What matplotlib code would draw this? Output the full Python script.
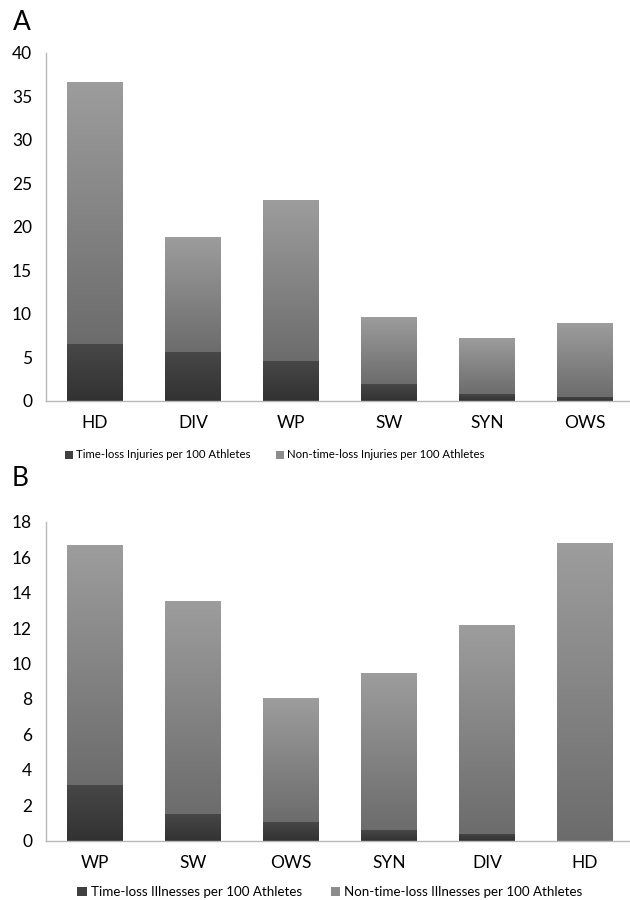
import numpy as np
import matplotlib
matplotlib.use("Agg")
import matplotlib.pyplot as plt
from matplotlib.colors import LinearSegmentedColormap
from matplotlib.patches import Patch

plt.rcParams['font.family'] = ['Lato', 'DejaVu Sans']

# Panel A data
cats_a = ["HD", "DIV", "WP", "SW", "SYN", "OWS"]
tl_inj = [6.55, 5.63, 4.56, 1.95, 0.80, 0.46]
total_inj = [36.7, 18.9, 23.07, 9.66, 7.28, 9.0]
ntl_inj = [t - d for t, d in zip(total_inj, tl_inj)]
yticks_a = [0, 5, 10, 15, 20, 25, 30, 35, 40]

# Panel B data
cats_b = ["WP", "SW", "OWS", "SYN", "DIV", "HD"]
tl_ill = [3.14, 1.50, 1.07, 0.59, 0.40, 0.0]
total_ill = [16.7, 13.54, 8.04, 9.48, 12.17, 16.78]
ntl_ill = [t - d for t, d in zip(total_ill, tl_ill)]
yticks_b = [0, 2, 4, 6, 8, 10, 12, 14, 16, 18]

dark_cmap = LinearSegmentedColormap.from_list("dk", ["#323232", "#474747"])
light_cmap = LinearSegmentedColormap.from_list("lt", ["#6c6c6c", "#9d9d9d"])
grad = np.linspace(0, 1, 256).reshape(-1, 1)[::-1]

W, H = 630, 900
fig = plt.figure(figsize=(W / 100, H / 100), dpi=100)


def grad_fill(ax, bars, cmap):
    for r in bars:
        x, y = r.get_x(), r.get_y()
        w, h = r.get_width(), r.get_height()
        if h <= 0:
            continue
        im = ax.imshow(grad, extent=[x, x + w, y, y + h], aspect='auto',
                       cmap=cmap, vmin=0, vmax=1, zorder=2, interpolation='bilinear')
        im.set_clip_path(r)
        r.set_facecolor('none')
        r.set_edgecolor('none')


def panel(rect, cats, tl, ntl, yticks, ymax, labels, leg_center, leg_fs):
    ax = fig.add_axes(rect)
    xs = np.arange(len(cats))
    b1 = ax.bar(xs, tl, width=0.57, color='#404040', zorder=2)
    b2 = ax.bar(xs, ntl, bottom=tl, width=0.57, color='#8c8c8c', zorder=2)
    grad_fill(ax, b1, dark_cmap)
    grad_fill(ax, b2, light_cmap)
    ax.set_xlim(-0.5, len(cats) - 0.5)
    ax.set_ylim(0, ymax)
    ax.set_yticks(yticks)
    ax.set_xticks(xs)
    ax.set_xticklabels(cats)
    ax.tick_params(axis='both', length=0, labelsize=12.5, colors='#000000')
    ax.tick_params(axis='y', pad=10)
    ax.tick_params(axis='x', pad=10)
    for s in ['top', 'right']:
        ax.spines[s].set_visible(False)
    for s in ['left', 'bottom']:
        ax.spines[s].set_color('#b8b8b8')
        ax.spines[s].set_linewidth(1.0)
    handles = [Patch(facecolor='#404040', edgecolor='none'),
               Patch(facecolor='#8c8c8c', edgecolor='none')]
    fig.legend(handles, labels, loc='center', ncol=2, frameon=False,
               bbox_to_anchor=leg_center, fontsize=leg_fs,
               handlelength=0.7, handleheight=0.7, handletextpad=0.3,
               columnspacing=2.2)
    return ax


left = 46 / W
width = 588 / W
panel([left, 1 - 401 / H, width, (401 - 53) / H], cats_a, tl_inj, ntl_inj,
      yticks_a, 40,
      ["Time-loss Injuries per 100 Athletes", "Non-time-loss Injuries per 100 Athletes"],
      (275 / W, 1 - 455 / H), 8.2)
panel([left, 1 - 840.7 / H, width, (840.7 - 521.7) / H], cats_b, tl_ill, ntl_ill,
      yticks_b, 18,
      ["Time-loss Illnesses per 100 Athletes", "Non-time-loss Illnesses per 100 Athletes"],
      (330 / W, 1 - 892 / H), 9.6)

fig.text(13 / W, 1 - 30 / H, "A", fontsize=19, ha='left', va='baseline')
fig.text(12 / W, 1 - 486 / H, "B", fontsize=19, ha='left', va='baseline')

fig.savefig("out.png", dpi=100)
